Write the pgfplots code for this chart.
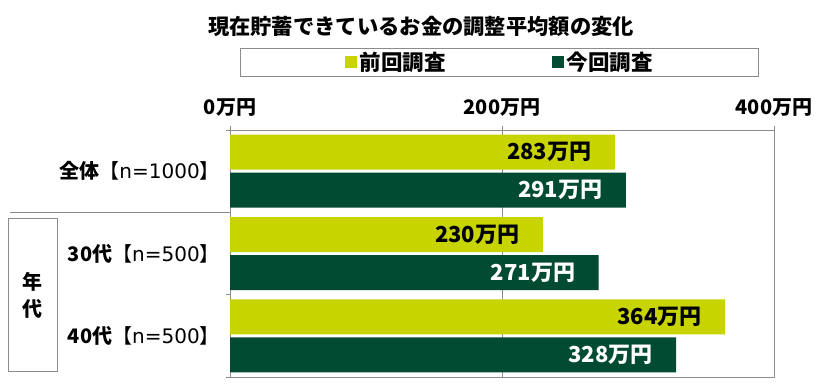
\documentclass[border=0pt]{standalone}
\usepackage{pgfplots}
\pgfplotsset{compat=1.18}
\usepackage{fontspec}
\setmainfont{Noto Sans CJK JP}
\newfontfamily\dejavu{DejaVu Sans}
\definecolor{prev}{HTML}{C8D400}
\definecolor{curr}{HTML}{004B32}
\definecolor{frame}{HTML}{8C8C8C}
\newcommand{\lbl}[2]{\textbf{#1}【{\dejavu #2}】}
\begin{document}
\begin{tikzpicture}[x=1pt,y=1pt]
\path[use as bounding box] (0,0) rectangle (840,385);
\node[font=\fontsize{21.3}{24}\selectfont\bfseries] at (421,359) {現在貯蓄できているお金の調整平均額の変化};
\begin{axis}[
  at={(230pt,8pt)}, anchor=south west, scale only axis, width=544pt, height=247pt,
  xbar, bar width=35pt, clip=false,
  xmin=0, xmax=400, ymin=-0.5, ymax=2.5, y dir=reverse,
  xtick={0,200,400}, xticklabels={0万円,200万円,400万円},
  xtick pos=upper, xticklabel pos=upper,
  ytick={-0.5,0.5,1.5,2.5}, yticklabels={}, ytick pos=left,
  tick align=outside, major tick length=4pt,
  tick style={frame, line width=0.8pt},
  axis line style={frame, line width=1pt},
  xmajorgrids, major grid style={frame, line width=0.8pt},
  xticklabel style={font=\fontsize{20}{24}\selectfont\bfseries, yshift=6pt},
  legend columns=2,
  legend style={at={(0.496,1.275)}, anchor=center, draw=frame, line width=1pt,
    font=\fontsize{21.5}{24}\selectfont\bfseries, inner xsep=104pt, inner ysep=2pt,
    /tikz/every even column/.append style={column sep=104pt},
    /tikz/every odd column/.append style={column sep=1pt}},
  legend image code/.code={\fill[#1, draw=none] (0pt,-6pt) rectangle (12pt,6pt);},
  point meta=x,
  /pgf/number format/assume math mode=true,
  nodes near coords={\pgfmathprintnumber{\pgfplotspointmeta}万円},
  nodes near coords style={font=\fontsize{22}{26}\selectfont\bfseries},
]
\addplot[fill=prev, draw=none, bar shift=19pt,
  every node near coord/.append style={anchor=east, xshift=-20pt, text=black}]
  coordinates {(283,0) (230,1) (364,2)};
\addplot[fill=curr, draw=none, bar shift=-19pt,
  every node near coord/.append style={anchor=east, xshift=-20pt, text=white}]
  coordinates {(291,0) (271,1) (328,2)};
\legend{前回調査,今回調査}
\node[anchor=east, xshift=-10pt, inner sep=0pt, font=\fontsize{20}{24}\selectfont] at (axis cs:0,0) {\lbl{全体}{n=1000}};
\node[anchor=east, xshift=-10pt, inner sep=0pt, font=\fontsize{20}{24}\selectfont] at (axis cs:0,1) {\lbl{30代}{n=500}};
\node[anchor=east, xshift=-10pt, inner sep=0pt, font=\fontsize{20}{24}\selectfont] at (axis cs:0,2) {\lbl{40代}{n=500}};
\end{axis}
\draw[frame, line width=1pt] (10,172.5) -- (230,172.5);
\draw[frame, line width=1pt] (8,13) rectangle (57,166);
\node[font=\fontsize{20}{27}\selectfont\bfseries, align=center] at (32.5,89.5) {年\\代};
\end{tikzpicture}
\end{document}
